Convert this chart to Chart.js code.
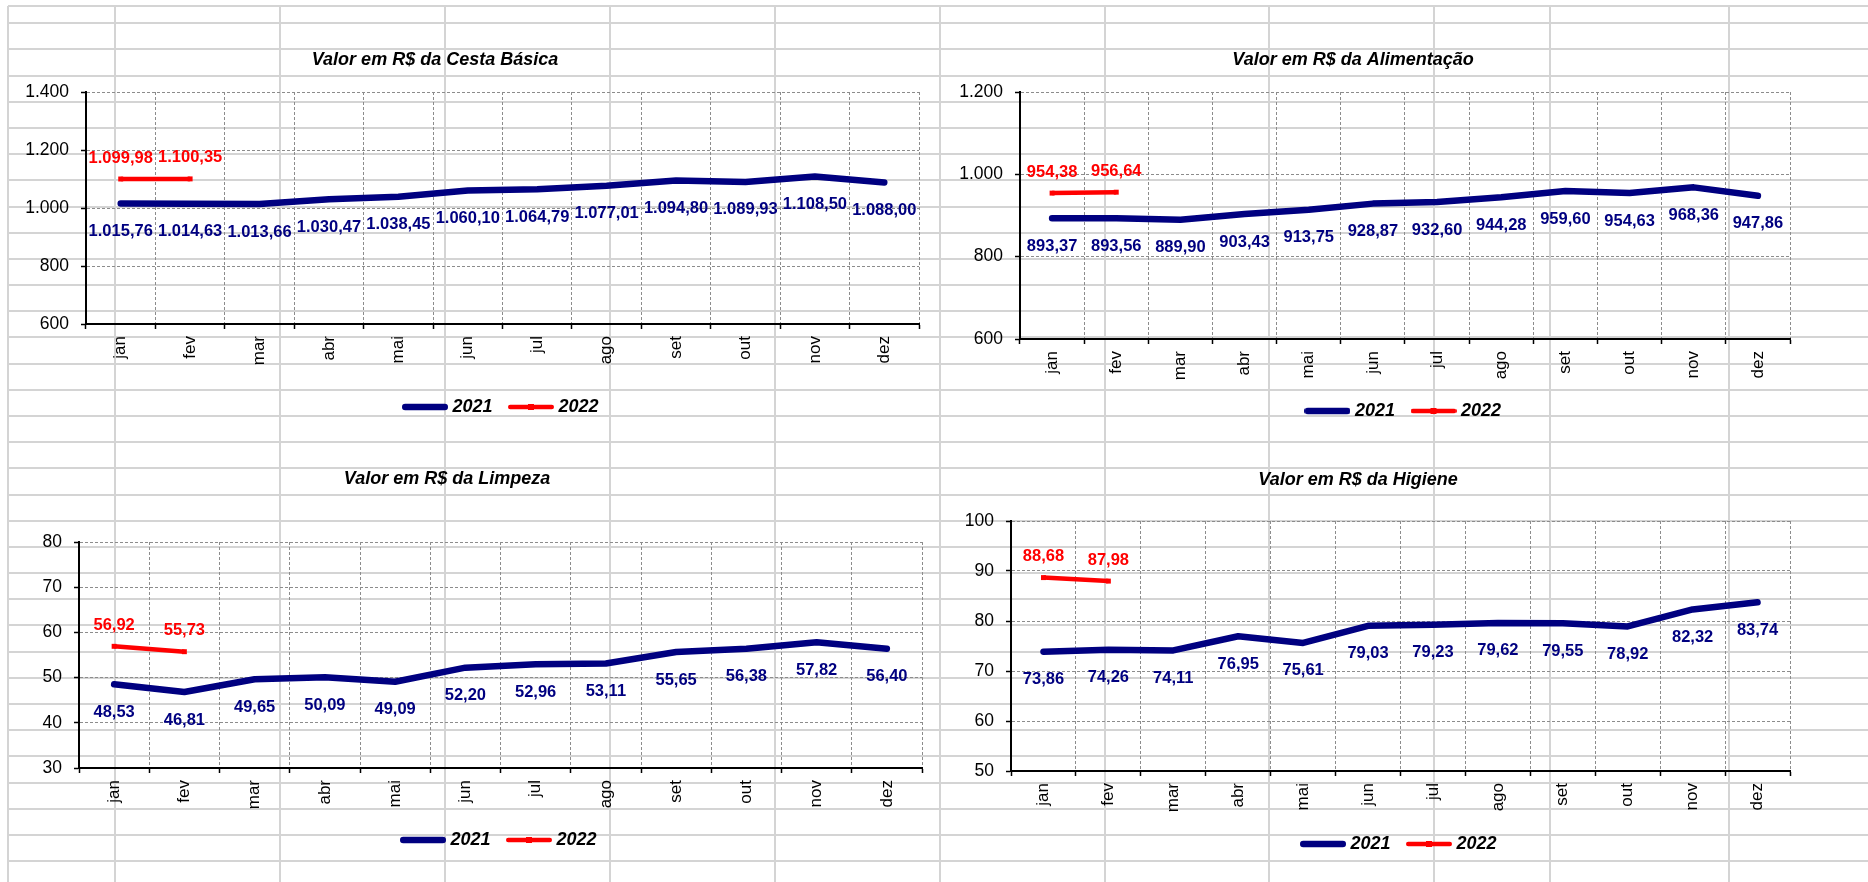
<!DOCTYPE html>
<html lang="pt-BR">
<head>
<meta charset="utf-8">
<title>Valor em R$ - Cesta Básica, Alimentação, Limpeza e Higiene</title>
<script src="https://cdn.jsdelivr.net/npm/chart.js@4.4.1/dist/chart.umd.min.js"></script>
<style>
  html, body { margin: 0; padding: 0; background: #fff; }
  body { position: relative; width: 1868px; height: 882px; overflow: hidden; }
  canvas { position: absolute; }
</style>
</head>
<body>
<canvas id="planilha" width="1868" height="882" style="left:0;top:0"></canvas>
<canvas id="cestaChart" width="983" height="379" style="left:-54px;top:49px"></canvas>
<canvas id="alimentacaoChart" width="889" height="383" style="left:911px;top:49px"></canvas>
<canvas id="limpezaChart" width="965" height="393" style="left:-33px;top:468px"></canvas>
<canvas id="higieneChart" width="879" height="396" style="left:921px;top:469px"></canvas>
<script>
// dados
const meses = ['jan', 'fev', 'mar', 'abr', 'mai', 'jun', 'jul', 'ago', 'set', 'out', 'nov', 'dez'];

const cesta2021 = [1015.76, 1014.63, 1013.66, 1030.47, 1038.45, 1060.10, 1064.79, 1077.01, 1094.80, 1089.93, 1108.50, 1088.00];
const cesta2022 = [1099.98, 1100.35];

const alimentacao2021 = [893.37, 893.56, 889.90, 903.43, 913.75, 928.87, 932.60, 944.28, 959.60, 954.63, 968.36, 947.86];
const alimentacao2022 = [954.38, 956.64];

const limpeza2021 = [48.53, 46.81, 49.65, 50.09, 49.09, 52.20, 52.96, 53.11, 55.65, 56.38, 57.82, 56.40];
const limpeza2022 = [56.92, 55.73];

const higiene2021 = [73.86, 74.26, 74.11, 76.95, 75.61, 79.03, 79.23, 79.62, 79.55, 78.92, 82.32, 83.74];
const higiene2022 = [88.68, 87.98];

const ticksCesta = [600, 800, 1000, 1200, 1400];
const ticksAlimentacao = [600, 800, 1000, 1200];
const ticksLimpeza = [30, 40, 50, 60, 70, 80];
const ticksHigiene = [50, 60, 70, 80, 90, 100];

const AZUL = '#000080';
const VERMELHO = '#ff0000';
const FONTE = "'Liberation Sans', Arial, sans-serif";

Chart.defaults.color = '#000';
Chart.defaults.font.family = FONTE;

// fundo de planilha
(function desenharPlanilha() {
    var c = document.getElementById('planilha');
    var g = c.getContext('2d');
    g.fillStyle = '#d4d4d4';
    var colunas = [8, 115, 280, 445, 610, 775, 940, 1105, 1269, 1434, 1550, 1729];
    var linhas = [6];
    for (var k = 0; 23.3 + k * 26.18 < 882; k++) linhas.push(Math.round(23.3 + k * 26.18));
    linhas.forEach(function(y) { g.fillRect(8, y - 1, 1868, 2); });
    colunas.forEach(function(x) { g.fillRect(x - 1, 6, 2, 882); });
})();

function formatar(v, casas) {
    var partes = v.toFixed(casas).split('.');
    var inteiro = partes[0].replace(/\B(?=(\d{3})+(?!\d))/g, '.');
    return partes.length > 1 ? inteiro + ',' + partes[1] : inteiro;
}

function imagemLegenda(cor, espessura, marcador) {
    var c = document.createElement('canvas');
    c.width = 46;
    c.height = 10;
    var g = c.getContext('2d');
    g.strokeStyle = cor;
    g.lineWidth = espessura;
    g.lineCap = 'round';
    g.beginPath();
    g.moveTo(espessura / 2, 5);
    g.lineTo(46 - espessura / 2, 5);
    g.stroke();
    if (marcador) {
        g.fillStyle = cor;
        g.fillRect(20, 2, 6, 6);
    }
    return c;
}

var iconesLegenda = [imagemLegenda(AZUL, 6.5, false), imagemLegenda(VERMELHO, 4.5, true)];

// rotulos de dados (abaixo para 2021, acima para 2022)
const rotulos = {
    id: 'rotulos',
    afterDatasetsDraw: function(chart, args, opts) {
        var ctx = chart.ctx;
        chart.data.datasets.forEach(function(ds, i) {
            var meta = chart.getDatasetMeta(i);
            ctx.save();
            ctx.font = 'bold 16.5px ' + FONTE;
            ctx.fillStyle = ds.borderColor;
            ctx.textAlign = 'center';
            ctx.textBaseline = 'middle';
            meta.data.forEach(function(pt, j) {
                var v = ds.data[j];
                if (v == null) return;
                ctx.fillText(formatar(v, 2), pt.x, pt.y + opts.deslocamento[i]);
            });
            ctx.restore();
        });
    }
};
Chart.register(rotulos);

function criarGrafico(id, titulo, dados2021, dados2022, ticks, larguraY, alturaX, espacoTitulo) {
    var ctx = document.getElementById(id).getContext('2d');
    return new Chart(ctx, {
        type: 'line',
        data: {
            labels: meses,
            datasets: [{
                label: '2021',
                data: dados2021,
                borderColor: AZUL,
                backgroundColor: AZUL,
                borderWidth: 6.5,
                borderCapStyle: 'round',
                borderJoinStyle: 'round',
                pointRadius: 0,
                tension: 0
            }, {
                label: '2022',
                data: dados2022,
                borderColor: VERMELHO,
                backgroundColor: VERMELHO,
                borderWidth: 4.5,
                borderCapStyle: 'butt',
                pointStyle: 'rect',
                pointRadius: 3.5,
                pointBorderWidth: 0,
                tension: 0
            }]
        },
        options: {
            responsive: false,
            animation: false,
            devicePixelRatio: 1,
            layout: { padding: { left: 5, right: 10, top: 0, bottom: 2 } },
            scales: {
                x: {
                    offset: true,
                    grid: {
                        offset: true,
                        color: '#8c8c8c',
                        lineWidth: 1,
                        tickLength: 5,
                        tickColor: '#000',
                        tickWidth: 1.5
                    },
                    border: { display: true, color: '#000', width: 2, dash: [3, 2] },
                    ticks: {
                        minRotation: 90,
                        maxRotation: 90,
                        autoSkip: false,
                        padding: 7,
                        color: '#000',
                        font: { size: 17 }
                    },
                    afterFit: function(s) { s.height = alturaX; }
                },
                y: {
                    min: ticks[0],
                    max: ticks[ticks.length - 1],
                    grid: {
                        color: '#8c8c8c',
                        lineWidth: 1,
                        tickLength: 5,
                        tickColor: '#000',
                        tickWidth: 1.5
                    },
                    border: { display: true, color: '#000', width: 2, dash: [3, 2] },
                    afterBuildTicks: function(s) {
                        s.ticks = ticks.map(function(v) { return { value: v }; });
                    },
                    ticks: {
                        padding: 12,
                        color: '#000',
                        font: { size: 17.5 },
                        callback: function(v) { return formatar(v, 0); }
                    },
                    afterFit: function(s) { s.width = larguraY; }
                }
            },
            plugins: {
                title: {
                    display: true,
                    text: titulo,
                    color: '#000',
                    font: { size: 18, weight: 'bold', style: 'italic' },
                    padding: { top: 0, bottom: espacoTitulo }
                },
                legend: {
                    display: true,
                    position: 'bottom',
                    fullSize: false,
                    labels: {
                        usePointStyle: true,
                        pointStyleWidth: 37,
                        padding: 20,
                        color: '#000',
                        font: { size: 18, weight: 'bold', style: 'italic' },
                        generateLabels: function(chart) {
                            var itens = Chart.defaults.plugins.legend.labels.generateLabels(chart);
                            itens.forEach(function(item) { item.pointStyle = iconesLegenda[item.datasetIndex]; });
                            return itens;
                        }
                    }
                },
                tooltip: { enabled: false },
                rotulos: { deslocamento: [28, -21] }
            }
        }
    });
}

criarGrafico('cestaChart', 'Valor em R$ da Cesta Básica', cesta2021, cesta2022, ticksCesta, 135, 54, 21.4);
criarGrafico('alimentacaoChart', 'Valor em R$ da Alimentação', alimentacao2021, alimentacao2022, ticksAlimentacao, 104, 43, 21.4);
criarGrafico('limpezaChart', 'Valor em R$ da Limpeza', limpeza2021, limpeza2022, ticksLimpeza, 107, 43, 52.4);
criarGrafico('higieneChart', 'Valor em R$ da Higiene', higiene2021, higiene2022, ticksHigiene, 85, 44, 30.4);
</script>
</body>
</html>
